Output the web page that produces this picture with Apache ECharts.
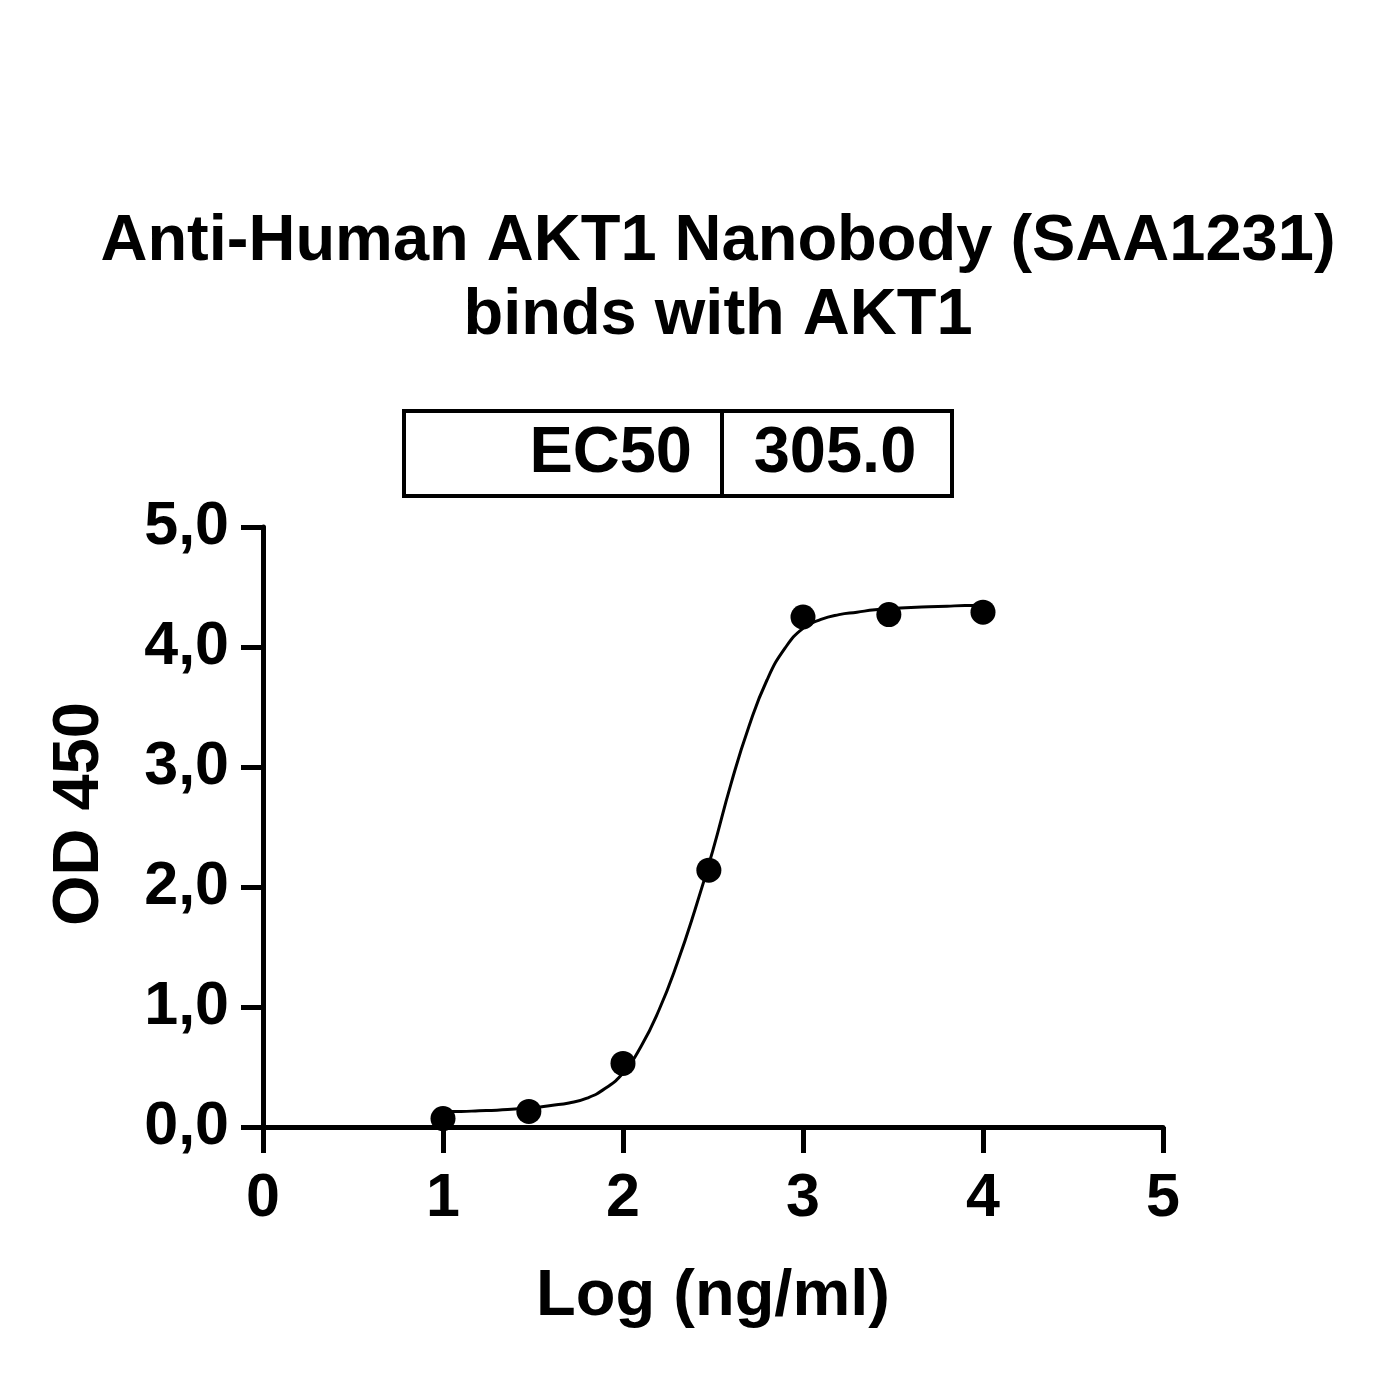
<!DOCTYPE html>
<html>
<head>
<meta charset="utf-8">
<script src="https://cdn.jsdelivr.net/npm/echarts@6/dist/echarts.min.js"></script>
<style>
  html, body { margin: 0; padding: 0; background: #fff; }
  #chart { width: 1380px; height: 1374px; }
</style>
</head>
<body>
<div id="chart"></div>
<script>
// measured points (log concentration, OD 450)
const logConc = [1.0, 1.477, 2.0, 2.477, 3.0, 3.477, 4.0];
const od450 = [0.07, 0.13, 0.53, 2.14, 4.25, 4.27, 4.29];

// fitted curve, every 0.1 log unit
const fitX = [1.0, 1.1, 1.2, 1.3, 1.4, 1.5, 1.6, 1.7, 1.8, 1.9,
              2.0, 2.1, 2.2, 2.3, 2.4, 2.5, 2.6, 2.7, 2.8, 2.9,
              3.0, 3.1, 3.2, 3.3, 3.4, 3.5, 3.6, 3.7, 3.8, 3.9, 4.0];
const fitY = [0.13, 0.13, 0.135, 0.14, 0.15, 0.16, 0.18, 0.2, 0.24, 0.32,
              0.45, 0.67, 0.975, 1.36, 1.81, 2.31, 2.86, 3.34, 3.725, 3.99,
              4.155, 4.23, 4.27, 4.29, 4.31, 4.32, 4.33, 4.335, 4.34, 4.345, 4.345];

const xTicks = [0, 1, 2, 3, 4, 5];
const yTicks = [0, 1, 2, 3, 4, 5];

const ec50Label = 'EC50';
const ec50Value = '305.0';

const font = "'Liberation Sans', Arial, sans-serif";

const chart = echarts.init(document.getElementById('chart'));

const option = {
    backgroundColor: '#fff',
    animation: false,
    title: {
        text: 'Anti-Human AKT1 Nanobody (SAA1231)\nbinds with AKT1',
        left: 713,
        top: 200,
        textAlign: 'center',
        textStyle: {
            fontFamily: font,
            fontWeight: 'bold',
            fontSize: 65,
            lineHeight: 74,
            color: '#000'
        }
    },
    grid: {
        left: 263,
        right: 217,
        top: 527,
        bottom: 247,
        containLabel: false
    },
    xAxis: {
        type: 'value',
        min: xTicks[0],
        max: xTicks[xTicks.length - 1],
        interval: 1,
        name: 'Log (ng/ml)',
        nameLocation: 'middle',
        nameGap: 138,
        nameTextStyle: {
            fontFamily: font,
            fontWeight: 'bold',
            fontSize: 65,
            color: '#000'
        },
        axisLine: { lineStyle: { color: '#000', width: 5 } },
        axisTick: { show: true, length: 26, lineStyle: { color: '#000', width: 5 } },
        axisLabel: {
            margin: 42,
            fontFamily: font,
            fontWeight: 'bold',
            fontSize: 61,
            color: '#000'
        },
        splitLine: { show: false }
    },
    yAxis: {
        type: 'value',
        min: yTicks[0],
        max: yTicks[yTicks.length - 1],
        interval: 1,
        name: 'OD 450',
        nameLocation: 'middle',
        nameGap: 150,
        nameRotate: 90,
        nameTextStyle: {
            fontFamily: font,
            fontWeight: 'bold',
            fontSize: 65,
            color: '#000',
            padding: [0, 0, 0, 26]
        },
        axisLine: { show: true, lineStyle: { color: '#000', width: 5 } },
        axisTick: { show: true, length: 22, lineStyle: { color: '#000', width: 5 } },
        axisLabel: {
            margin: 34,
            fontFamily: font,
            fontWeight: 'bold',
            fontSize: 61,
            color: '#000',
            formatter: v => v.toFixed(1).replace('.', ',')
        },
        splitLine: { show: false }
    },
    series: [
        {
            name: 'fit',
            type: 'line',
            data: fitX.map((x, i) => [x, fitY[i]]),
            smooth: 0.5,
            showSymbol: false,
            lineStyle: { color: '#000', width: 3 },
            z: 2
        },
        {
            name: 'OD 450',
            type: 'scatter',
            data: logConc.map((x, i) => [x, od450[i]]),
            symbol: 'circle',
            symbolSize: 25,
            itemStyle: { color: '#000', opacity: 1 },
            z: 3
        }
    ],
    graphic: [
        {
            type: 'rect',
            shape: { x: 404, y: 411, width: 548, height: 85 },
            style: { fill: 'none', stroke: '#000', lineWidth: 4 }
        },
        {
            type: 'line',
            shape: { x1: 722, y1: 411, x2: 722, y2: 496 },
            style: { stroke: '#000', lineWidth: 4 }
        },
        {
            type: 'text',
            x: 692,
            y: 454,
            style: {
                text: ec50Label,
                fontFamily: font,
                fontWeight: 'bold',
                fontSize: 65,
                fill: '#000',
                align: 'right',
                verticalAlign: 'middle'
            }
        },
        {
            type: 'text',
            x: 835,
            y: 454,
            style: {
                text: ec50Value,
                fontFamily: font,
                fontWeight: 'bold',
                fontSize: 65,
                fill: '#000',
                align: 'center',
                verticalAlign: 'middle'
            }
        }
    ]
};

chart.setOption(option);
</script>
</body>
</html>
